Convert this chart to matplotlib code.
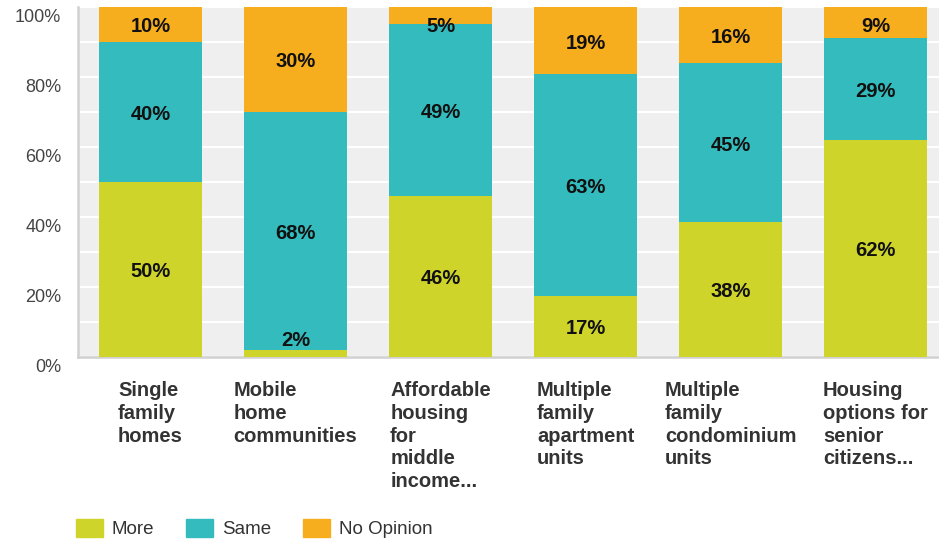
import matplotlib
matplotlib.use("Agg")
import matplotlib.pyplot as plt
import matplotlib.transforms as mtransforms
from matplotlib.patches import Patch
import numpy as np

plt.rcParams['font.family'] = ['Liberation Sans', 'DejaVu Sans']

categories = ["Single\nfamily\nhomes", "Mobile\nhome\ncommunities",
              "Affordable\nhousing\nfor\nmiddle\nincome...",
              "Multiple\nfamily\napartment\nunits",
              "Multiple\nfamily\ncondominium\nunits",
              "Housing\noptions for\nsenior\ncitizens..."]
series_names = ["More", "Same", "No Opinion"]
more = [50, 2, 46, 17, 38, 62]
same = [40, 68, 49, 63, 45, 29]
no_opinion = [10, 30, 5, 19, 16, 9]
colors = ["#cfd42a", "#33bbbd", "#f6ae1f"]
y_ticks = [0, 20, 40, 60, 80, 100]

W, H, DPI = 939, 541, 100
fig = plt.figure(figsize=(W / DPI, H / DPI), dpi=DPI)
left, right, bottom, top = 78, 948, 356.5, 7
ax = fig.add_axes([left / W, 1 - bottom / H, (right - left) / W, (bottom - top) / H])
ax.set_facecolor("#efefef")

data = np.array([more, same, no_opinion], dtype=float)
totals = data.sum(axis=0)
pct = data / totals * 100
x = np.arange(len(categories))
base = np.zeros(len(categories))
lab_off = mtransforms.ScaledTranslation(0, -2.5 / DPI, fig.dpi_scale_trans)
for i, name in enumerate(series_names):
    ax.bar(x, pct[i], bottom=base, width=0.717, color=colors[i], label=name, zorder=3)
    for j in range(len(categories)):
        c = base[j] + pct[i][j] / 2
        c = min(max(c, 5.4), 95.0)
        ax.text(x[j], c, f"{int(data[i][j])}%", ha="center", va="center",
                fontsize=14.5, fontweight="bold", color="#111111", zorder=4,
                transform=ax.transData + lab_off)
    base += pct[i]

ax.set_xlim(-0.5, len(categories) - 0.5)
ax.set_ylim(0, 100)
ax.set_yticks(y_ticks)
ax.set_yticklabels([f"{v}%" for v in y_ticks], fontsize=13, color="#444444")
ax.set_yticks(np.arange(0, 101, 10), minor=True)
ax.grid(True, axis="y", which="both", color="white", linewidth=1.6, zorder=1)
ax.tick_params(axis="y", which="both", length=0, pad=12)
off = mtransforms.ScaledTranslation(0, -9 / DPI, fig.dpi_scale_trans)
for lab in ax.get_yticklabels():
    lab.set_transform(lab.get_transform() + off)

ax.set_xticks(x)
ax.set_xticklabels(categories, fontsize=14.5, fontweight="bold", color="#333333",
                   multialignment="left", linespacing=1.24, va="top")
ax.tick_params(axis="x", length=0, pad=18)

for s in ["top", "right"]:
    ax.spines[s].set_visible(False)
ax.spines["left"].set_color("#d0d0d0")
ax.spines["bottom"].set_color("#d0d0d0")
ax.spines["left"].set_linewidth(1.8)
ax.spines["bottom"].set_linewidth(1.8)
ax.set_axisbelow(True)

handles = [Patch(facecolor=c, edgecolor=c, label=n) for c, n in zip(colors, series_names)]
fig.legend(handles=handles, loc="lower left", bbox_to_anchor=(59 / W, -14 / H), ncol=3,
           frameon=False, fontsize=13.5, handlelength=1.45, handleheight=1.1,
           handletextpad=0.45, columnspacing=1.72, labelcolor="#333333")

fig.savefig("out.png", dpi=DPI)
